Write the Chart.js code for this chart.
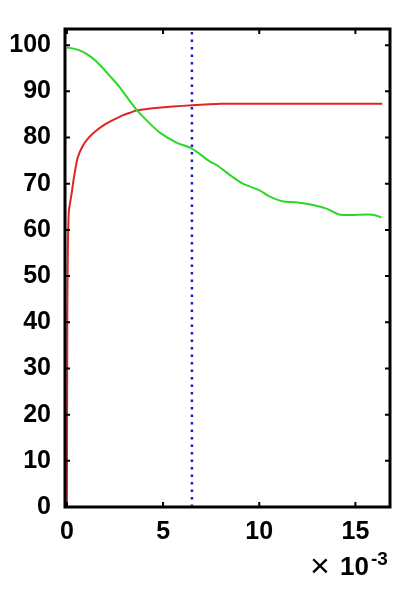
<!DOCTYPE html>
<html>
<head>
<meta charset="utf-8">
<script src="https://cdn.jsdelivr.net/npm/chart.js@4"></script>
<style>
  html, body { margin: 0; padding: 0; background: #fff; }
  canvas { display: block; }
</style>
</head>
<body>
<canvas id="chart" width="411" height="597"></canvas>
<script>
/* ── Data (x in units of 1e-3) ───────────────────── */
const RED_X   = [0, 0.02, 0.05, 0.1, 0.25, 0.35, 0.55, 0.8, 1.1, 1.5, 2.0, 2.5, 2.9, 3.3, 3.65, 4.2, 4.6, 5.5, 6.5, 7.4, 8, 10, 12, 14, 16.4];
const RED_Y   = [0, 42, 56, 64, 68, 71, 75.5, 78, 79.8, 81.4, 82.9, 84.0, 84.8, 85.4, 85.9, 86.2, 86.4, 86.7, 87.0, 87.2, 87.3, 87.3, 87.3, 87.3, 87.3];

const GREEN_X = [0, 0.4, 0.86, 1.3, 1.74, 2.24, 2.76, 3.2, 3.65, 4.2, 4.85, 5.7, 6.5, 7.4, 7.8, 8.6, 9.15, 10.0, 10.5, 11.2, 11.9, 12.8, 13.5, 14.2, 15.9, 16.35];
const GREEN_Y = [99.5, 99.2, 98.5, 97.3, 95.6, 93.3, 90.8, 88.3, 85.9, 83.5, 81.0, 78.9, 77.6, 74.9, 74.0, 71.5, 70.0, 68.6, 67.3, 66.2, 66.0, 65.4, 64.6, 63.3, 63.3, 62.7];

const MARKER_X = 6.5;

const X_TICKS = [0, 5, 10, 15];
const Y_TICKS = [0, 10, 20, 30, 40, 50, 60, 70, 80, 90, 100];
const X_MIN = -0.1, X_MAX = 16.8;
const Y_MIN = 0,    Y_MAX = 103.5;

const FONT = { family: 'Liberation Sans', size: 25, weight: 'bold' };

function pts(xs, ys) { return xs.map((x, i) => ({ x: x, y: ys[i] })); }

/* ── Box frame, inward ticks, exponent label ─────── */
const framePlugin = {
  id: 'frame',
  afterDatasetsDraw(chart) {
    const { ctx, chartArea: a, scales } = chart;
    ctx.save();
    ctx.strokeStyle = '#000';
    ctx.lineWidth = 3;
    ctx.strokeRect(a.left, a.top, a.right - a.left, a.bottom - a.top);

    ctx.lineWidth = 2;
    const tl = 5;
    X_TICKS.forEach(v => {
      const px = scales.x.getPixelForValue(v);
      ctx.beginPath();
      ctx.moveTo(px, a.bottom); ctx.lineTo(px, a.bottom - tl);
      ctx.moveTo(px, a.top);    ctx.lineTo(px, a.top + tl);
      ctx.stroke();
    });
    Y_TICKS.forEach(v => {
      const py = scales.y.getPixelForValue(v);
      ctx.beginPath();
      ctx.moveTo(a.left, py);  ctx.lineTo(a.left + tl, py);
      ctx.moveTo(a.right, py); ctx.lineTo(a.right - tl, py);
      ctx.stroke();
    });

    // ×10^-3 under the right end of the x axis
    ctx.fillStyle = '#000';
    ctx.textBaseline = 'alphabetic';
    ctx.textAlign = 'left';
    ctx.font = '34px "Liberation Sans"';
    ctx.fillText('×', a.right - 80, a.bottom + 70);
    ctx.font = 'bold 26px "Liberation Sans"';
    ctx.fillText('10', a.right - 50, a.bottom + 68);
    ctx.font = 'bold 19px "Liberation Sans"';
    ctx.fillText('-3', a.right - 19, a.bottom + 58);
    ctx.restore();
  }
};

new Chart(document.getElementById('chart').getContext('2d'), {
  type: 'scatter',
  data: {
    datasets: [
      {
        data: pts(GREEN_X, GREEN_Y),
        showLine: true, borderColor: '#2ad82a', borderWidth: 2,
        pointRadius: 0, tension: 0.3
      },
      {
        data: pts(RED_X, RED_Y),
        showLine: true, borderColor: '#e02424', borderWidth: 2,
        pointRadius: 0, tension: 0.2
      },
      {
        data: [{ x: MARKER_X, y: Y_MIN }, { x: MARKER_X, y: Y_MAX }],
        showLine: true, borderColor: '#1c1cc8', borderWidth: 2.5,
        borderDash: [2.5, 5], pointRadius: 0
      }
    ]
  },
  options: {
    responsive: false,
    animation: false,
    layout: { padding: { top: 16, right: 21, left: 0, bottom: 0 } },
    plugins: { legend: { display: false }, tooltip: { enabled: false } },
    scales: {
      x: {
        type: 'linear', min: X_MIN, max: X_MAX,
        grid: { display: false, drawTicks: false },
        border: { display: false },
        afterBuildTicks: s => { s.ticks = X_TICKS.map(v => ({ value: v })); },
        afterFit: s => { s.height = 90; },
        ticks: { color: '#000', font: FONT, padding: 10, maxRotation: 0 }
      },
      y: {
        type: 'linear', min: Y_MIN, max: Y_MAX,
        grid: { display: false, drawTicks: false },
        border: { display: false },
        afterBuildTicks: s => { s.ticks = Y_TICKS.map(v => ({ value: v })); },
        afterFit: s => { s.width = 65; },
        ticks: { color: '#000', font: FONT, padding: 14 }
      }
    }
  },
  plugins: [framePlugin]
});
</script>
</body>
</html>
